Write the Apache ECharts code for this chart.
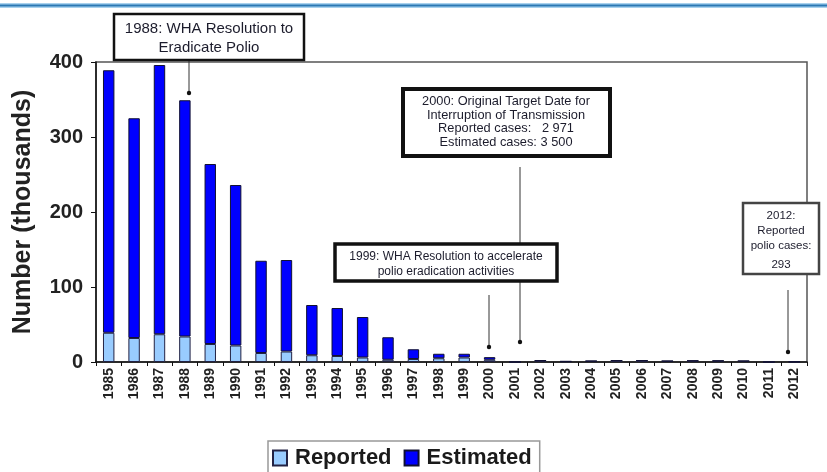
<!DOCTYPE html>
<html>
<head>
<meta charset="utf-8">
<script src="https://cdn.jsdelivr.net/npm/echarts@6/dist/echarts.min.js"></script>
<style>
  html, body { margin: 0; padding: 0; background: #fff; }
  #chart { width: 827px; height: 472px; }
</style>
</head>
<body>
<div id="chart"></div>
<script>
// Polio cases per year, in thousands
const years = ['1985','1986','1987','1988','1989','1990','1991','1992','1993','1994',
  '1995','1996','1997','1998','1999','2000','2001','2002','2003','2004',
  '2005','2006','2007','2008','2009','2010','2011','2012'];
const reported = [39, 32, 37, 34, 24, 22, 12, 14, 9, 8,
  6, 3, 4, 5, 6, 2.971, 0, 1.9, 0.8, 1.3,
  2.0, 2.0, 1.3, 1.65, 1.6, 1.35, 0, 0.293];
const estimated = [350, 293, 359, 315, 240, 214, 123, 122, 67, 64,
  54, 30, 13, 6, 5, 3.5, 0, 0, 0, 0,
  0, 0, 0, 0, 0, 0, 0, 0];
const yTicks = [0, 100, 200, 300, 400];

const FONT = '"Liberation Sans", Arial, sans-serif';
const chart = echarts.init(document.getElementById('chart'));

// Annotation helpers
function box(x, y, w, h, lw, color) {
  return { type: 'rect', z: 10, shape: { x: x, y: y, width: w, height: h },
    style: { fill: '#fff', stroke: color || '#111', lineWidth: lw } };
}
function label(x, y, text, size, weight, lh) {
  return { type: 'text', z: 11, x: x, y: y,
    style: { text: text, fill: '#1c1c2c', font: (weight || 'normal') + ' ' + size + 'px ' + FONT,
      align: 'center', verticalAlign: 'top', lineHeight: lh || size + 2 } };
}
function arrow(x, y1, y2, z) {
  return [
    { type: 'line', z: z || 5, shape: { x1: x, y1: y1, x2: x, y2: y2 },
      style: { stroke: '#333', lineWidth: 1 } },
    { type: 'circle', z: z || 5, shape: { cx: x, cy: y2, r: 2.2 }, style: { fill: '#111' } }
  ];
}

chart.setOption({
  animation: false,
  backgroundColor: '#fff',
  textStyle: { fontFamily: FONT },
  grid: { left: 96, right: 20, top: 62, bottom: 110, show: true, containLabel: false,
    outerBoundsMode: 'none',
    borderColor: '#555', borderWidth: 1.5, backgroundColor: 'transparent' },
  legend: {
    left: 268, top: 441, padding: [6, 8, 12, 4], itemGap: 12,
    itemWidth: 14, itemHeight: 15, icon: 'rect',
    borderColor: '#999', borderWidth: 1.5,
    textStyle: { fontSize: 22, fontWeight: 'bold', color: '#1a1a1a', fontFamily: FONT,
      padding: [0, 0, 0, 3] },
    data: ['Reported', 'Estimated']
  },
  xAxis: {
    type: 'category', data: years,
    axisLine: { lineStyle: { color: '#111', width: 1.5 } },
    axisTick: { show: true, length: 4, lineStyle: { color: '#111' } },
    axisLabel: { rotate: 90, margin: 6, fontSize: 14, fontWeight: 'bold', color: '#222', fontFamily: FONT }
  },
  yAxis: {
    type: 'value', min: yTicks[0], max: yTicks[yTicks.length - 1], interval: 100,
    name: 'Number (thousands)', nameLocation: 'middle', nameGap: 60,
    nameTextStyle: { fontSize: 25, fontWeight: 'bold', color: '#222', fontFamily: FONT },
    axisLine: { show: true, lineStyle: { color: '#111', width: 1.5 } },
    axisTick: { show: true, length: 5, lineStyle: { color: '#111' } },
    axisLabel: { fontSize: 20, fontWeight: 'bold', color: '#222', margin: 13, fontFamily: FONT },
    splitLine: { show: false }
  },
  series: [
    { name: 'Reported', type: 'bar', stack: 'cases', data: reported, barWidth: '45%',
      itemStyle: { color: '#99ccff', borderColor: '#222244', borderWidth: 1 } },
    { name: 'Estimated', type: 'bar', stack: 'cases', data: estimated, barWidth: '45%',
      itemStyle: { color: '#0000ff', borderColor: '#111133', borderWidth: 1 } }
  ],
  graphic: [
    // header rule
    { type: 'rect', z: 1, shape: { x: 0, y: 3, width: 827, height: 5 }, style: { fill: '#a9d2ee' } },
    { type: 'rect', z: 2, shape: { x: 0, y: 4.5, width: 827, height: 2 }, style: { fill: '#2b78b4' } },

    box(114, 14, 190, 46, 2.5),
    label(209, 19, '1988: WHA Resolution to\nEradicate Polio', 15, 'normal', 19),
    ...arrow(189, 61, 93),

    ...arrow(520, 167, 342, 4),
    box(403, 89, 207, 67, 4),
    label(506, 95, '2000: Original Target Date for\nInterruption of Transmission\nReported cases:   2 971\nEstimated cases: 3 500', 12.8, 'normal', 13.5),

    box(335, 244, 222, 37, 3.5),
    label(446, 249, '1999: WHA Resolution to accelerate\npolio eradication activities', 12, 'normal', 15),
    ...arrow(489, 295, 347),

    box(743, 203, 76, 71, 2.5, '#444'),
    label(781, 208, '2012:\nReported\npolio cases:', 11.5, 'normal', 15),
    label(781, 257, '293', 11.5, 'normal', 15),
    ...arrow(788, 290, 352)
  ]
});
</script>
</body>
</html>
